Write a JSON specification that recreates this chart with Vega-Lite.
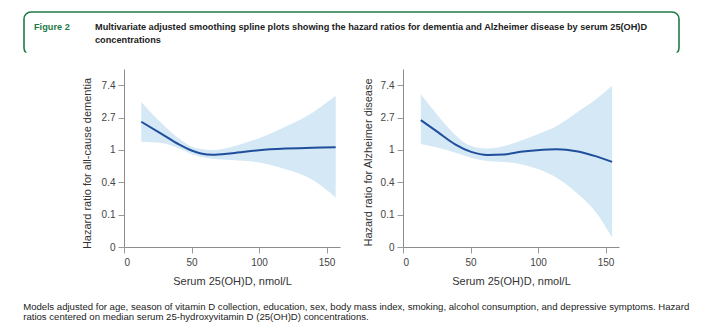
{
  "$schema": "https://vega.github.io/schema/vega-lite/v6.json",
  "padding": {"left": 23, "top": 11, "right": 5, "bottom": 5},
  "background": "white",
  "config": {
    "font": "Liberation Sans",
    "view": {"stroke": null},
    "axis": {
      "grid": false,
      "domainColor": "#8c8c8c",
      "tickColor": "#9a9a9a",
      "tickSize": 6,
      "labelFont": "Liberation Sans",
      "labelFontSize": 10,
      "labelColor": "#444444",
      "labelPadding": 3,
      "titleFont": "Liberation Sans",
      "titleFontSize": 11,
      "titleFontWeight": "normal",
      "titleColor": "#333333"
    },
    "axisX": {"labelPadding": 4, "titlePadding": 8},
    "axisY": {"titlePadding": 9}
  },
  "datasets": {
    "header": [
      {"part": "label", "line": 1, "text": "Figure 2"},
      {"part": "caption", "line": 1, "text": "Multivariate adjusted smoothing spline plots showing the hazard ratios for dementia and Alzheimer disease by serum 25(OH)D"},
      {"part": "caption", "line": 2, "text": "concentrations"}
    ],
    "curves": [
      {"panel": "dementia", "x": 12.8, "est": 0.87, "lo": 0.25, "hi": 1.48},
      {"panel": "dementia", "x": 28.4, "est": 0.48, "lo": 0.21, "hi": 0.8},
      {"panel": "dementia", "x": 40.7, "est": 0.17, "lo": 0.04, "hi": 0.35},
      {"panel": "dementia", "x": 50.1, "est": -0.02, "lo": -0.13, "hi": 0.1},
      {"panel": "dementia", "x": 57, "est": -0.11, "lo": -0.22, "hi": 0.03},
      {"panel": "dementia", "x": 65.4, "est": -0.15, "lo": -0.27, "hi": 0.0},
      {"panel": "dementia", "x": 80.2, "est": -0.1, "lo": -0.31, "hi": 0.1},
      {"panel": "dementia", "x": 100, "est": -0.01, "lo": -0.39, "hi": 0.36},
      {"panel": "dementia", "x": 119.8, "est": 0.04, "lo": -0.6, "hi": 0.72},
      {"panel": "dementia", "x": 139.5, "est": 0.07, "lo": -0.92, "hi": 1.15},
      {"panel": "dementia", "x": 156.8, "est": 0.08, "lo": -1.47, "hi": 1.67},
      {"panel": "alz", "x": 13.2, "est": 0.92, "lo": 0.18, "hi": 1.72},
      {"panel": "alz", "x": 26.1, "est": 0.54, "lo": 0.07, "hi": 1.05},
      {"panel": "alz", "x": 38.3, "est": 0.18, "lo": -0.08, "hi": 0.48},
      {"panel": "alz", "x": 50.5, "est": -0.06, "lo": -0.24, "hi": 0.12},
      {"panel": "alz", "x": 62.7, "est": -0.155, "lo": -0.34, "hi": 0.04},
      {"panel": "alz", "x": 74.9, "est": -0.14, "lo": -0.37, "hi": 0.12},
      {"panel": "alz", "x": 87.1, "est": -0.06, "lo": -0.44, "hi": 0.28},
      {"panel": "alz", "x": 99.3, "est": -0.01, "lo": -0.58, "hi": 0.48},
      {"panel": "alz", "x": 113.9, "est": 0.02, "lo": -0.86, "hi": 0.74},
      {"panel": "alz", "x": 128.5, "est": -0.04, "lo": -1.32, "hi": 1.15},
      {"panel": "alz", "x": 143.2, "est": -0.2, "lo": -1.94, "hi": 1.57},
      {"panel": "alz", "x": 154.9, "est": -0.37, "lo": -2.71, "hi": 1.98}
    ]
  },
  "title": {
    "text": [
      "Models adjusted for age, season of vitamin D collection, education, sex, body mass index, smoking, alcohol consumption, and depressive symptoms. Hazard",
      "ratios centered on median serum 25-hydroxyvitamin D (25(OH)D) concentrations."
    ],
    "orient": "bottom",
    "anchor": "start",
    "font": "Liberation Sans",
    "fontSize": 9.6,
    "fontWeight": "normal",
    "color": "#222222",
    "offset": 16,
    "lineHeight": 10
  },
  "spacing": 13,
  "vconcat": [
    {
      "width": 655,
      "height": 43,
      "view": {
        "stroke": {
          "gradient": "linear",
          "x1": 0, "y1": 0, "x2": 0, "y2": 1,
          "stops": [
            {"offset": 0, "color": "#1e7a45"},
            {"offset": 0.94, "color": "#1e7a45"},
            {"offset": 0.95, "color": "rgba(255,255,255,0)"},
            {"offset": 1, "color": "rgba(255,255,255,0)"}
          ]
        },
        "strokeWidth": 1.6,
        "cornerRadius": 7
      },
      "data": {"name": "header"},
      "mark": {"type": "text", "align": "left", "baseline": "middle", "fontSize": 9.2, "fontWeight": "bold", "font": "Liberation Sans"},
      "encoding": {
        "x": {"field": "part", "type": "nominal", "scale": {"type": "point", "domain": ["label", "caption"], "range": [10, 71], "padding": 0}, "axis": null},
        "y": {"field": "line", "type": "ordinal", "scale": {"type": "point", "domain": [1, 2], "range": [15, 28], "padding": 0}, "axis": null},
        "text": {"field": "text"},
        "color": {"field": "part", "type": "nominal", "scale": {"domain": ["label", "caption"], "range": ["#1e7a45", "#222222"]}, "legend": null}
      }
    },
    {
      "spacing": 22,
      "hconcat": [
        {
          "width": 35,
          "height": 178,
          "view": {"fill": "white", "stroke": null},
          "data": {"values": []},
          "mark": "point"
        },
        {
          "width": 216,
          "height": 178,
          "data": {"name": "curves"},
          "transform": [{"filter": "datum.panel == 'dementia'"}],
          "encoding": {
            "x": {"field": "x", "type": "quantitative", "scale": {"domain": [0, 160], "nice": false}, "axis": {"values": [0, 50, 100, 150], "title": "Serum 25(OH)D, nmol/L"}}
          },
          "layer": [
            {
              "mark": {"type": "area", "interpolate": "monotone", "color": "#d5e8f6"},
              "encoding": {
                "y": {"field": "lo", "type": "quantitative", "scale": {"domain": [-3, 2.5], "nice": false},
                  "axis": {"values": [-3, -2, -1, 0, 1, 2], "labelExpr": "datum.value == -3 ? '0' : datum.value == 0 ? '1' : format(exp(datum.value), '.1f')", "title": "Hazard ratio for all-cause dementia", "titleY": 94}},
                "y2": {"field": "hi"}
              }
            },
            {
              "mark": {"type": "line", "interpolate": "monotone", "color": "#1f4e9d", "strokeWidth": 2},
              "encoding": {
                "y": {"field": "est", "type": "quantitative", "axis": {"values": [-3, -2, -1, 0, 1, 2], "labelExpr": "datum.value == -3 ? '0' : datum.value == 0 ? '1' : format(exp(datum.value), '.1f')", "title": "Hazard ratio for all-cause dementia", "titleY": 94}}
              }
            }
          ]
        },
        {
          "width": 216,
          "height": 178,
          "data": {"name": "curves"},
          "transform": [{"filter": "datum.panel == 'alz'"}],
          "encoding": {
            "x": {"field": "x", "type": "quantitative", "scale": {"domain": [0, 160], "nice": false}, "axis": {"values": [0, 50, 100, 150], "title": "Serum 25(OH)D, nmol/L"}}
          },
          "layer": [
            {
              "mark": {"type": "area", "interpolate": "monotone", "color": "#d5e8f6"},
              "encoding": {
                "y": {"field": "lo", "type": "quantitative", "scale": {"domain": [-3, 2.5], "nice": false},
                  "axis": {"values": [-3, -2, -1, 0, 1, 2], "labelExpr": "datum.value == -3 ? '0' : datum.value == 0 ? '1' : format(exp(datum.value), '.1f')", "title": "Hazard ratio for Alzheimer disease", "titlePadding": 7, "titleY": 93}},
                "y2": {"field": "hi"}
              }
            },
            {
              "mark": {"type": "line", "interpolate": "monotone", "color": "#1f4e9d", "strokeWidth": 2},
              "encoding": {
                "y": {"field": "est", "type": "quantitative", "axis": {"values": [-3, -2, -1, 0, 1, 2], "labelExpr": "datum.value == -3 ? '0' : datum.value == 0 ? '1' : format(exp(datum.value), '.1f')", "title": "Hazard ratio for Alzheimer disease", "titlePadding": 7, "titleY": 93}}
              }
            }
          ]
        }
      ]
    }
  ]
}
